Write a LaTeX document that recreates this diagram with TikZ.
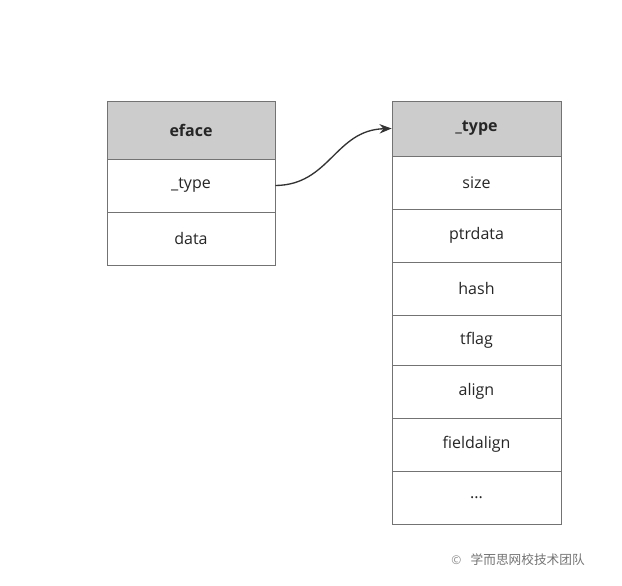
\documentclass[tikz,border=0pt]{standalone}
\usepackage{fontspec}
\setmainfont{Open Sans}
\newfontfamily\cjk{Noto Sans CJK SC}
\usetikzlibrary{arrows.meta}
\begin{document}
\begin{tikzpicture}[x=0.75pt,y=-0.75pt,
  cell/.style={draw=black!55,line width=0.6pt,minimum width=126pt,inner sep=0pt,font=\fontsize{12}{14}\selectfont,text=black!85},
  hd/.style={cell,fill=black!20,font=\fontsize{12}{14}\selectfont\bfseries}]
\useasboundingbox (0,0) rectangle (622,586);
\fill[white] (0,0) rectangle (622,586);
% left table
\node[hd,minimum height=43.5pt] (e0) at (191,130) {eface};
\node[cell,minimum height=39.75pt] (e1) at (191,185.5) {\_type};
\node[cell,minimum height=39.75pt] (e2) at (191,238.5) {data};
% right table
\node[hd,minimum height=41.25pt,minimum width=126.75pt] (t0) at (476.5,128.5) {\_type};
\foreach \n/\t/\a/\b in {1/size/156/209,2/ptrdata/209/262,3/hash/262/315,4/tflag/315/365,5/align/365/418,6/fieldalign/418/471}{
  \node[cell,minimum width=126.75pt,minimum height={(\b-\a)*0.75pt}] (t\n) at (476.5,{(\a+\b)/2}) {\t};
}
\node[cell,minimum width=126.75pt,minimum height=39.75pt] (t7) at (476.5,497.5) {...};
\draw[line width=1pt,black!80,-{Stealth[length=9pt,width=7pt]}] (e1.east) .. controls (330,185) and (335,130) .. (t0.west);
\node[text=black!55,font=\cjk\fontsize{9.5}{10}\selectfont,anchor=west] (wm) at (466,560) {学而思网校技术团队};
\node[text=black!45,font=\fontsize{9}{10}\selectfont,anchor=east] (ic) at (wm.west) {\char"00A9};
\end{tikzpicture}
\end{document}
